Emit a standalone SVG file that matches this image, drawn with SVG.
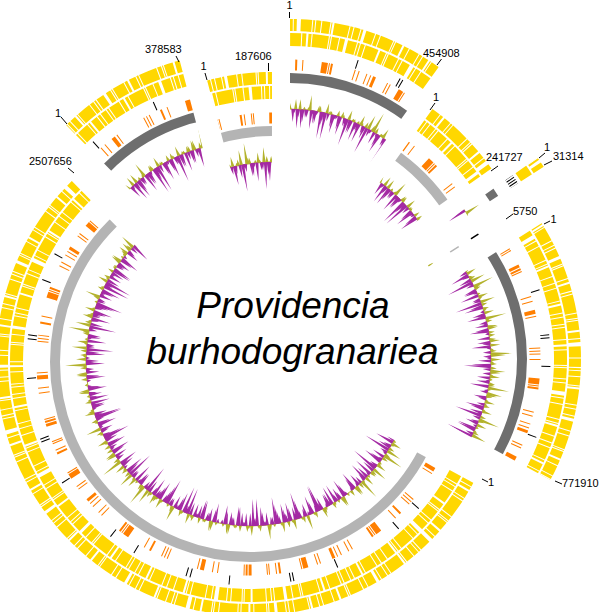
<svg xmlns="http://www.w3.org/2000/svg" width="600" height="612" viewBox="0 0 600 612">
<style>
.gd{fill:none;stroke:#6e6e6e;stroke-width:10}
.gl{fill:none;stroke:#b4b4b4;stroke-width:10}
.y1{fill:none;stroke:#ffd700;stroke-width:12;stroke-dasharray:10 1 3 1 6 2 1 1 14 1 4 1 2 1 8 3 5 1 1 1 12 1 3 2 7 1 2 1 18 1 4 1 1 1 9 2 6 1 3 4 11 1 2 1 5 1 8 1 1 2 15 1 3 1 6 1 2 3 9 1 4 1 13 1 1 1 7 2 5 1}
.y2{fill:none;stroke:#ffd700;stroke-width:13;stroke-dasharray:6 1 2 1 11 1 4 2 3 1 16 1 1 1 7 1 5 3 9 1 2 1 4 1 13 2 6 1 1 1 10 1 3 1 8 4 2 1 5 1 14 1 3 1 1 2 9 1 6 1 4 1 12 1 2 2 7 1 3 1}
.or{fill:none;stroke:#ff7f00;stroke-width:11;stroke-dasharray:1 3 1 2 3 12 1 2 1 9 5 1 1 20 2 2 1 6 1 1 1 15 3 1 2 1 1 25 1 4 1 8 4 2 1 30 1 2 1 2 1 11 2 5 1 18 6 1 1 1 2 22 1 3 1 7}
.bk{fill:none;stroke:#000;stroke-width:9;stroke-dasharray:1 38 1 3 1 55 1 27 1 70 1 44 1 2 1 60}
.bl{fill:none;stroke:#b3b22c;stroke-width:1}
.mk{fill:none;stroke:#fff;stroke-width:140}
.lab{font-family:"Liberation Sans",Arial,Helvetica,sans-serif;font-size:11px;fill:#000}
.tk{stroke:#000;stroke-width:1;fill:none}
.ttl{font-family:"Liberation Sans",Arial,Helvetica,sans-serif;font-size:37px;font-style:italic;fill:#000;text-anchor:middle}
</style>
<defs>
<path id="o1" fill="#b3b22c" d="M-1.6 -164L0 -167L1.6 -164z"/>
<path id="o2" fill="#b3b22c" d="M-1.6 -164L0 -170L1.6 -164z"/>
<path id="o3" fill="#b3b22c" d="M-1.6 -164L0 -174L1.6 -164z"/>
<path id="o4" fill="#b3b22c" d="M-1.6 -164L0 -179L1.6 -164z"/>
<path id="o5" fill="#b3b22c" d="M-1.6 -164L0 -185L1.6 -164z"/>
<path id="p1" fill="#a42aa4" d="M-1.6 -164L0 -160L1.6 -164z"/>
<path id="p2" fill="#a42aa4" d="M-1.6 -164L0 -156L1.6 -164z"/>
<path id="p3" fill="#a42aa4" d="M-1.6 -164L0 -151L1.6 -164z"/>
<path id="p4" fill="#a42aa4" d="M-1.6 -164L0 -145L1.6 -164z"/>
<path id="p5" fill="#a42aa4" d="M-1.6 -164L0 -137L1.6 -164z"/>
<g id="g1">
<use href="#p2"/><use href="#p4" transform="rotate(1)"/><use href="#o1" transform="rotate(2)"/><use href="#p3" transform="rotate(3)"/><use href="#p5" transform="rotate(4)"/><use href="#p2" transform="rotate(5)"/><use href="#o2" transform="rotate(6)"/><use href="#p3" transform="rotate(7)"/><use href="#p1" transform="rotate(8)"/><use href="#p4" transform="rotate(9)"/><use href="#o1" transform="rotate(10)"/><use href="#p2" transform="rotate(11)"/><use href="#p5" transform="rotate(12)"/><use href="#p3" transform="rotate(13)"/><use href="#o2" transform="rotate(14)"/><use href="#p1" transform="rotate(15)"/><use href="#p3" transform="rotate(16)"/><use href="#p4" transform="rotate(17)"/><use href="#o1" transform="rotate(18)"/><use href="#p2" transform="rotate(19)"/><use href="#p3" transform="rotate(20)"/><use href="#o3" transform="rotate(21)"/><use href="#p4" transform="rotate(22)"/><use href="#p1" transform="rotate(23)"/>
</g>
<g id="g2">
<use href="#o2"/><use href="#p3" transform="rotate(1)"/><use href="#o3" transform="rotate(2)"/><use href="#p2" transform="rotate(3)"/><use href="#p4" transform="rotate(4)"/><use href="#o1" transform="rotate(5)"/><use href="#p2" transform="rotate(6)"/><use href="#o4" transform="rotate(7)"/><use href="#p1" transform="rotate(8)"/><use href="#p3" transform="rotate(9)"/><use href="#o2" transform="rotate(10)"/><use href="#p5" transform="rotate(11)"/><use href="#p2" transform="rotate(12)"/><use href="#o3" transform="rotate(13)"/><use href="#o1" transform="rotate(14)"/><use href="#p3" transform="rotate(15)"/><use href="#p1" transform="rotate(16)"/><use href="#o2" transform="rotate(17)"/><use href="#p4" transform="rotate(18)"/><use href="#o1" transform="rotate(19)"/><use href="#p2" transform="rotate(20)"/><use href="#o3" transform="rotate(21)"/><use href="#p3" transform="rotate(22)"/><use href="#o1" transform="rotate(23)"/>
</g>
<g id="g3">
<use href="#o1"/><use href="#o3" transform="rotate(1)"/><use href="#p2" transform="rotate(2)"/><use href="#o2" transform="rotate(3)"/><use href="#o4" transform="rotate(4)"/><use href="#p1" transform="rotate(5)"/><use href="#o5" transform="rotate(6)"/><use href="#o2" transform="rotate(7)"/><use href="#p3" transform="rotate(8)"/><use href="#o1" transform="rotate(9)"/><use href="#o3" transform="rotate(10)"/><use href="#p2" transform="rotate(11)"/><use href="#o4" transform="rotate(12)"/><use href="#o2" transform="rotate(13)"/><use href="#p4" transform="rotate(14)"/><use href="#o1" transform="rotate(15)"/><use href="#o3" transform="rotate(16)"/><use href="#p2" transform="rotate(17)"/><use href="#o5" transform="rotate(18)"/><use href="#o2" transform="rotate(19)"/><use href="#p1" transform="rotate(20)"/><use href="#o3" transform="rotate(21)"/><use href="#p3" transform="rotate(22)"/><use href="#o2" transform="rotate(23)"/>
</g>
<mask id="mA"><circle class="mk" r="190" stroke-dasharray="118.72 1200" transform="rotate(-90)"/></mask>
<mask id="mB"><circle class="mk" r="190" stroke-dasharray="63.01 1200" transform="rotate(-54.2)"/></mask>
<mask id="mC"><circle class="mk" r="190" stroke-dasharray="8.29 1200" transform="rotate(-35.2)"/></mask>
<mask id="mD"><circle class="mk" r="190" stroke-dasharray="1.49 1200" transform="rotate(-32.7)"/></mask>
<mask id="mE"><circle class="mk" r="190" stroke-dasharray="201.29 1200" transform="rotate(-32.3)"/></mask>
<mask id="mF"><circle class="mk" r="190" stroke-dasharray="653.27 1200" transform="rotate(28.4)"/></mask>
<mask id="mG"><circle class="mk" r="190" stroke-dasharray="98.82 1200" transform="rotate(225.4)"/></mask>
<mask id="mH"><circle class="mk" r="190" stroke-dasharray="49.08 1200" transform="rotate(255.2)"/></mask>
</defs>
<rect width="600" height="612" fill="#fff"/>

<g id="contig-A">
<g transform="translate(290,273)"><g mask="url(#mA)">
<circle class="y1" r="248"/><circle class="y2" r="233.5"/><circle class="or" r="208"/><circle class="bk" r="219" style="stroke-dashoffset:20"/><circle class="gd" r="195"/><circle class="bl" r="164"/>
<use href="#g2"/><use href="#g1" transform="rotate(24)"/>
<use href="#g1" transform="rotate(24.5) scale(-1,1)"/><use href="#g3" transform="rotate(24.5)"/>
</g></g>
<text class="lab" x="289.5" y="9" text-anchor="middle">1</text>
<text class="lab" x="423" y="57">454908</text>
</g>

<g id="contig-B">
<g transform="translate(284,315)"><g mask="url(#mB)">
<circle class="y1" r="248" style="stroke-dashoffset:37"/><circle class="y2" r="233.5" style="stroke-dashoffset:55"/><circle class="or" r="208" style="stroke-dashoffset:140"/><circle class="gl" r="195"/><circle class="bl" r="164"/>
<use href="#g2" transform="rotate(35.8)"/><use href="#g1" transform="rotate(60.3) scale(-1,1)"/>
</g></g>
<text class="lab" x="436" y="101" text-anchor="middle">1</text>
<text class="lab" x="486" y="161">241727</text>
</g>

<g id="contig-C">
<g transform="translate(330,304)"><g mask="url(#mC)">
<circle class="y1" r="248" style="stroke-dashoffset:91"/><circle class="y2" r="233.5" style="stroke-dashoffset:20"/><circle class="or" r="208" style="stroke-dashoffset:60"/><circle class="bk" r="219" style="stroke-dasharray:1 1.6"/><circle class="gd" r="195"/><circle class="bl" r="164"/>
<use href="#p4" transform="rotate(55.2)"/><use href="#o4" transform="rotate(56.3)"/>
</g></g>
<text class="lab" x="547" y="151" text-anchor="middle">1</text>
<text class="lab" x="553" y="160">31314</text>
</g>

<g id="contig-D">
<g transform="translate(290,354)"><g mask="url(#mD)">
<circle r="219" fill="none" stroke="#000" stroke-width="9"/><circle class="gl" r="195"/>
<use href="#o2" transform="rotate(57.5)"/>
</g></g>
<text class="lab" x="513" y="215">5750</text>
</g>

<g id="contig-E">
<g transform="translate(327,359)"><g mask="url(#mE)">
<circle class="y1" r="248" style="stroke-dashoffset:150"/><circle class="y2" r="233.5" style="stroke-dashoffset:100"/><circle class="or" r="208" style="stroke-dashoffset:200"/><circle class="bk" r="219" style="stroke-dashoffset:120"/><circle class="gd" r="195"/><circle class="bl" r="164"/>
<use href="#g3" transform="rotate(57.7)"/><use href="#g2" transform="rotate(81.7)"/><use href="#g3" transform="rotate(129.7) scale(-1,1)"/>
<use href="#g1" transform="rotate(58.2)"/><use href="#g3" transform="rotate(106.2) scale(-1,1)"/><use href="#g1" transform="rotate(106.2)"/>
</g></g>
<text class="lab" x="553.5" y="223" text-anchor="middle">1</text>
<text class="lab" x="562" y="487">771910</text>
</g>

<g id="contig-F">
<g transform="translate(250,362)"><g mask="url(#mF)">
<circle class="y1" r="248" style="stroke-dashoffset:210"/><circle class="y2" r="233.5" style="stroke-dashoffset:170"/><circle class="or" r="208" style="stroke-dashoffset:30"/><circle class="bk" r="219" style="stroke-dashoffset:250"/><circle class="gl" r="195"/><circle class="bl" r="164"/>
<use href="#g1" transform="rotate(118.4)"/><use href="#g2" transform="rotate(166.4) scale(-1,1)"/><use href="#g2" transform="rotate(166.4)"/><use href="#g1" transform="rotate(214.4) scale(-1,1)"/><use href="#g3" transform="rotate(214.4)"/><use href="#g1" transform="rotate(238.4)"/><use href="#g1" transform="rotate(286.4) scale(-1,1)"/><use href="#g2" transform="rotate(286.4)"/><use href="#g3" transform="rotate(310.4)"/>
<use href="#g3" transform="rotate(118.9)"/><use href="#g1" transform="rotate(166.9) scale(-1,1)"/><use href="#g1" transform="rotate(166.9)"/><use href="#g2" transform="rotate(214.9) scale(-1,1)"/><use href="#g1" transform="rotate(214.9)"/><use href="#g2" transform="rotate(238.9)"/><use href="#g3" transform="rotate(286.9) scale(-1,1)"/><use href="#g1" transform="rotate(286.9)"/><use href="#g2" transform="rotate(310.9)"/>
</g></g>
<text class="lab" x="491" y="486" text-anchor="middle">1</text>
<text class="lab" x="29" y="165">2507656</text>
</g>

<g id="contig-G">
<g transform="translate(244.5,306)"><g mask="url(#mG)">
<circle class="y1" r="248" style="stroke-dashoffset:66"/><circle class="y2" r="233.5" style="stroke-dashoffset:140"/><circle class="or" r="208" style="stroke-dashoffset:90"/><circle class="bk" r="219" style="stroke-dashoffset:180"/><circle class="gd" r="195"/><circle class="bl" r="164"/>
<use href="#g2" transform="rotate(315.4)"/><use href="#g3" transform="rotate(363.4) scale(-1,1)"/>
<use href="#g1" transform="rotate(339.9) scale(-1,1)"/><use href="#g2" transform="rotate(339.9)"/>
</g></g>
<text class="lab" x="58" y="117" text-anchor="middle">1</text>
<text class="lab" x="145" y="53">378583</text>
</g>

<g id="contig-H">
<g transform="translate(272,326)"><g mask="url(#mH)">
<circle class="y1" r="248" style="stroke-dashoffset:120"/><circle class="y2" r="233.5" style="stroke-dashoffset:77"/><circle class="or" r="208" style="stroke-dashoffset:170"/><circle class="gl" r="195"/><circle class="bl" r="164"/>
<use href="#g3" transform="rotate(345.2)"/><use href="#g1" transform="rotate(345.7)"/>
</g></g>
<text class="lab" x="203.5" y="70" text-anchor="middle">1</text>
<text class="lab" x="235" y="60">187606</text>
</g>

<g id="connectors">
<path class="tk" d="M289.5 18V12M437 65L441.5 59M430 110L435 103M491 171L498 166M539 158L545 153M544 165L552 161M506 219L513 214M544 224L550 221M555 481L562 484M482 479L488 482M68 168L74 173M61 117L67 124M176 56L179 62M205 73L207 80M268.5 63V71"/>
</g>

<g id="title">
<text class="ttl" x="293" y="318">Providencia</text>
<text class="ttl" x="292.5" y="364">burhodogranariea</text>
</g>
</svg>
